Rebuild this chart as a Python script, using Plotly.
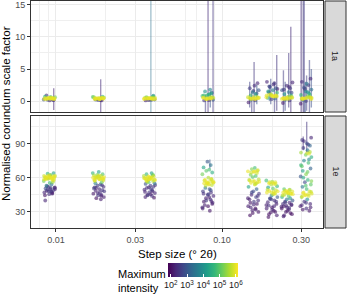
import plotly.graph_objects as go
from plotly.colors import sample_colorscale

# ---------------- data ----------------
STEP = [0.00914, 0.01803, 0.0366, 0.0824, 0.155, 0.200, 0.2466, 0.3206]

X_TICKS = [0.01, 0.03, 0.1, 0.3]
X_TICKTEXT = ["0.01", "0.03", "0.10", "0.30"]
X_MINOR = [0.008, 0.009, 0.02, 0.04, 0.06, 0.07, 0.09, 0.2]

YA_TICKS = [0, 5, 10, 15]
YA_MINOR = [2.5, 7.5, 12.5]
YE_TICKS = [30, 60, 90]
YE_MINOR = [45, 75, 105]

CB_TICKS = [2, 3, 4, 5, 6]
CB_TEXT = ["10<sup>2</sup>", "10<sup>3</sup>", "10<sup>4</sup>", "10<sup>5</sup>", "10<sup>6</sup>"]

# panel 1a : normalised scale factor / log10 max intensity per step-size group
A_Y = [
    [0.35, 0.45, 0.5, 0.4, 0.3, 0.55, 0.45, 0.4, 0.6, 0.35, 0.5, 0.7, 0.65, 0.2, 0.15, 0.25, 0.1, 0.2, 0.9,
     0.4, 0.45, 0.35, 0.5, 0.4, 0.3],
    [0.4, 0.3, 0.5, 0.45, 0.35, 0.55, 0.4, 0.5, 0.6, 0.3, 0.45, 0.7, 0.65, 0.2, 0.1, 0.25, 0.15, 0.2,
     0.4, 0.45, 0.35, 0.5, 0.4, 0.3],
    [0.35, 0.4, 0.5, 0.45, 0.3, 0.55, 0.4, 0.5, 0.65, 0.35, 0.45, 0.75, 0.6, 0.2, 0.15, 0.25, 0.1, 0.25, 0.85,
     0.4, 0.45, 0.35, 0.5, 0.4, 0.3],
    [0.35, 0.45, 0.5, 0.4, 0.3, 0.6, 0.8, 1.0, 1.2, 1.5, 1.8, 0.9, 0.2, 0.1, 0.15, 1.3, 0.7, 1.1, 0.55,
     0.4, 0.45, 0.5, 0.35, 0.6, 0.9],
    [0.3, 0.4, 0.5, 0.6, 0.45, 0.7, 0.9, 1.1, 1.4, 1.7, 2.0, 2.4, 2.8, 0.2, 0.1, -0.2, 1.2, 1.6, 0.55, 0.35,
     0.4, 0.5, 0.45, 0.35, 0.6],
    [0.6, 0.8, 0.9, 1.0, 0.7, 1.1, 1.3, 1.5, 1.7, 2.0, 2.3, 2.6, 3.0, 0.4, 0.3, 1.9, 2.2, 2.8, 0.5, 0.85, 1.4,
     0.8, 0.9, 0.75, 0.95, 0.7],
    [0.3, 0.4, 0.5, 0.6, 0.45, 0.7, 0.9, 1.1, 1.4, 1.7, 2.0, 2.4, 2.9, 0.2, 0.1, -0.3, 1.3, 1.8, 0.55, 0.35, 2.2,
     0.4, 0.5, 0.45, 0.35, 0.6],
    [0.3, 0.45, 0.5, 0.6, 0.4, 0.75, 0.95, 1.2, 1.5, 1.8, 2.1, 2.5, 3.0, 3.5, 0.2, 0.0, -0.4, 1.4, 1.9, 0.55, 0.35,
     2.7, 1.0, 0.4, 0.5, 0.45, 0.6, 0.35],
]
A_I = [
    [6.0, 5.9, 6.0, 5.8, 6.0, 5.7, 5.9, 6.0, 5.3, 5.8, 5.9, 4.6, 4.9, 2.8, 2.4, 3.0, 2.2, 2.6, 2.5,
     6.0, 5.9, 6.0, 5.8, 5.9, 6.0],
    [5.9, 6.0, 5.8, 6.0, 5.9, 5.7, 6.0, 5.9, 5.2, 5.8, 6.0, 4.7, 5.0, 2.7, 2.3, 3.1, 2.4, 2.5,
     6.0, 5.9, 6.0, 5.8, 5.9, 6.0],
    [6.0, 5.8, 5.9, 6.0, 5.9, 5.6, 6.0, 5.8, 5.0, 6.0, 5.9, 4.5, 5.2, 2.9, 2.4, 3.0, 2.3, 2.6, 3.8,
     6.0, 5.9, 6.0, 5.8, 5.9, 6.0],
    [6.0, 5.9, 6.0, 5.8, 6.0, 5.5, 4.8, 4.5, 4.3, 4.0, 3.8, 4.6, 3.0, 2.5, 2.3, 3.2, 5.2, 4.4, 5.9,
     6.0, 5.9, 5.8, 6.0, 5.6, 4.6],
    [6.0, 5.9, 6.0, 5.8, 6.0, 5.5, 4.8, 4.3, 3.6, 3.0, 2.6, 2.4, 2.3, 3.2, 2.6, 2.2, 2.8, 2.5, 5.9, 6.0,
     6.0, 5.9, 6.0, 5.8, 5.7],
    [6.0, 5.9, 6.0, 5.8, 6.0, 5.5, 4.8, 4.3, 3.6, 3.0, 2.6, 2.4, 2.3, 3.2, 2.6, 2.2, 2.8, 2.5, 4.5, 5.9, 2.7,
     6.0, 5.9, 6.0, 5.8, 5.9],
    [6.0, 5.9, 6.0, 5.8, 6.0, 5.4, 4.7, 4.2, 3.5, 2.9, 2.6, 2.4, 2.3, 3.1, 2.6, 2.2, 2.8, 2.5, 5.9, 6.0, 2.3,
     6.0, 5.9, 6.0, 5.8, 5.7],
    [6.0, 5.9, 6.0, 5.8, 6.0, 5.3, 4.6, 4.2, 3.8, 3.4, 2.9, 2.6, 2.4, 2.3, 3.3, 2.6, 2.2, 4.0, 2.5, 5.9, 6.0,
     3.6, 4.8, 6.0, 5.9, 6.0, 5.5, 5.8],
]

# panel 1e
E_Y = [
    [58.5, 59, 59.5, 60, 60, 60.5, 61, 61, 61.5, 62, 59, 60.5, 62.5, 63.5, 64, 57, 55.5, 56, 53, 54,
     52, 51, 50.5, 50, 49, 48.5, 48, 47, 46.5, 45.5, 51.5, 49.5, 47.5, 40,
     58, 59.5, 60.5, 61.5, 60, 59, 61, 58.5, 62, 57.5, 52.5, 50, 48, 46, 44.5, 51],
    [57.5, 58, 59, 59.5, 60, 60.5, 61, 61.5, 62, 58.5, 60, 63, 64, 65, 56, 55,
     54, 53, 52, 51.5, 50, 49, 48.5, 47, 46, 45, 44.5, 43, 42, 41,
     58, 59.5, 60.5, 61, 60, 59, 62.5, 58.5, 57, 61.5, 53.5, 51, 48, 46.5, 44, 50.5],
    [57, 57.5, 58, 58.5, 59, 59.5, 60, 60.5, 61, 61.5, 59, 62, 63, 64, 56, 55,
     54.5, 53, 52, 51, 50, 49.5, 48, 47, 46.5, 45, 44, 43, 42.5,
     57.5, 58.5, 59.5, 60, 61, 58, 59, 60.5, 62.5, 56.5, 53.5, 51.5, 49, 47.5, 45.5, 44.5],
    [74, 71, 69, 67, 66, 64.5, 63, 60, 59, 58, 57, 56, 55.5, 55, 54, 53.5,
     51, 50, 48, 47, 45, 44, 42, 41, 39, 38, 36, 35, 33, 31,
     55, 56.5, 57.5, 54.5, 58.5, 53, 56, 55.5, 49, 46, 43, 40, 37, 34, 45.5, 39.5],
    [68.5, 67.5, 66.5, 65.5, 65, 64, 62.5, 61.5, 60.5, 58.5, 57.5, 57, 56, 55.5, 54.5, 52,
     50, 48, 46, 45, 43, 41, 40, 38, 36.5, 35, 33, 31.5, 30, 27,
     65.5, 66, 64.5, 56.5, 57, 55, 58, 54, 47, 44, 42, 39, 37, 34, 32, 29],
    [57.5, 56.5, 56, 55, 54.5, 54, 52.5, 51.5, 50.5, 49, 48.5, 47.5, 47, 46, 44.5,
     43, 41.5, 40, 38.5, 37, 35.5, 34, 33, 31, 29.5, 27, 25.5,
     55.5, 54.5, 56, 48, 47, 46.5, 49.5, 45.5, 42, 39, 36, 32, 30, 28, 35, 41],
    [50, 49, 48.5, 48, 47, 46.5, 46, 45, 44, 43, 42, 41, 40, 39, 38, 37, 36, 35, 34, 33, 32, 30, 28, 26,
     47.5, 46, 48.5, 45.5, 47, 49.5, 44.5, 46.5, 38.5, 36.5, 34.5, 31, 29, 27, 33.5, 35.5],
    [95, 93, 90, 88, 86, 84, 82, 81, 80, 78, 75, 73, 70, 68, 66, 63, 61, 58, 56, 54, 52, 50,
     48, 47, 46, 45, 44, 43, 41, 39, 37, 35, 33, 31,
     46.5, 45.5, 44.5, 47.5, 43.5, 81.5, 82.5, 60, 65, 71, 76, 53, 57, 92, 89, 36, 34, 32, 38],
]
E_I = [
    [5.9, 6.0, 5.8, 6.0, 5.9, 6.0, 5.8, 6.0, 5.7, 5.9, 6.0, 5.9, 5.0, 4.6, 4.3, 5.2, 4.8, 5.4, 3.6, 3.4,
     2.6, 2.4, 2.8, 2.3, 2.5, 2.2, 2.6, 2.3, 2.1, 2.4, 2.2, 2.5, 2.0, 2.3,
     5.9, 6.0, 5.9, 5.8, 6.0, 5.7, 6.0, 5.9, 5.5, 5.8, 2.4, 2.2, 2.5, 2.3, 2.1, 2.6],
    [5.8, 6.0, 5.9, 6.0, 5.8, 6.0, 5.9, 5.7, 5.6, 6.0, 5.9, 4.9, 4.6, 4.3, 5.0, 3.6,
     2.8, 2.5, 2.4, 2.6, 2.3, 2.5, 2.2, 2.4, 2.1, 2.3, 2.5, 2.2, 2.0, 2.2,
     5.9, 6.0, 5.9, 5.8, 6.0, 5.7, 5.3, 5.9, 5.6, 5.8, 2.4, 2.2, 2.5, 2.3, 2.1, 2.6],
    [5.6, 5.9, 6.0, 5.8, 6.0, 5.9, 6.0, 5.8, 5.9, 5.6, 5.8, 5.0, 4.6, 4.3, 4.9, 3.5,
     2.9, 2.6, 2.5, 2.4, 2.6, 2.3, 2.2, 2.5, 2.3, 2.1, 2.4, 2.2, 2.0,
     5.9, 6.0, 5.9, 5.8, 6.0, 5.7, 6.0, 5.9, 5.2, 5.6, 2.4, 2.2, 2.5, 2.3, 2.1, 2.6],
    [3.0, 3.5, 4.3, 4.8, 5.0, 4.5, 5.2, 5.6, 5.9, 6.0, 5.9, 6.0, 5.8, 6.0, 5.9, 5.7,
     3.5, 3.0, 2.6, 2.4, 2.5, 2.3, 2.2, 2.4, 2.1, 2.3, 2.2, 2.0, 2.2, 2.1,
     6.0, 5.9, 5.8, 6.0, 5.6, 5.7, 6.0, 5.9, 2.8, 2.4, 2.2, 2.5, 2.1, 2.3, 2.6, 2.2],
    [4.8, 5.3, 5.8, 6.0, 5.9, 5.8, 5.2, 4.9, 5.0, 5.6, 5.9, 6.0, 5.9, 6.0, 5.8, 4.3,
     3.2, 2.8, 2.5, 2.3, 2.6, 2.2, 2.4, 2.1, 2.3, 2.2, 2.0, 2.2, 2.1, 2.0,
     6.0, 5.9, 5.8, 6.0, 5.9, 5.7, 5.6, 5.8, 2.7, 2.4, 2.2, 2.5, 2.1, 2.3, 2.2, 2.0],
    [4.8, 5.5, 5.9, 6.0, 5.9, 5.6, 4.6, 4.2, 5.0, 5.7, 6.0, 5.9, 6.0, 5.7, 3.8,
     3.0, 2.6, 2.4, 2.3, 2.2, 2.4, 2.1, 2.2, 2.0, 2.1, 2.2, 2.0,
     6.0, 5.9, 5.8, 6.0, 5.9, 6.0, 5.6, 5.8, 2.8, 2.4, 2.2, 2.3, 2.1, 2.0, 2.3, 2.6],
    [5.0, 5.8, 6.0, 5.9, 6.0, 5.8, 6.0, 5.7, 5.0, 4.5, 4.0, 3.5, 3.0, 2.6, 2.3, 2.4, 2.2, 2.1, 2.3, 2.0, 2.2, 2.1, 2.0, 2.2,
     6.0, 5.9, 5.8, 6.0, 5.9, 5.4, 5.7, 6.0, 2.5, 2.3, 2.2, 2.1, 2.0, 2.2, 2.4, 2.3],
    [2.3, 2.5, 2.8, 3.2, 2.6, 3.5, 5.5, 5.9, 5.2, 4.5, 3.8, 4.8, 5.0, 3.2, 4.2, 5.3, 3.0, 4.6, 2.8, 5.0, 3.6, 4.8,
     5.8, 6.0, 5.9, 6.0, 5.8, 5.4, 4.0, 2.5, 2.3, 2.2, 2.4, 2.1,
     6.0, 5.9, 6.0, 5.8, 5.9, 5.8, 5.6, 4.4, 5.1, 4.6, 3.9, 4.9, 5.3, 2.4, 2.6, 2.3, 2.2, 2.1, 2.5],
]

# error bars (step size, lower, upper, log10 max intensity)
A_EB_X = [0.0097, 0.0186, 0.0373, 0.0824, 0.0883, 0.0795, 0.085, 0.156, 0.1468, 0.162, 0.151,
          0.2135, 0.1965, 0.207, 0.193, 0.2595, 0.2343, 0.252, 0.240, 0.2995, 0.3083, 0.3125,
          0.336, 0.345, 0.323, 0.317]
A_EB_LO = [-1.4, -1.7, -1.7, -1.7, -1.7, -1.7, -1.0, -1.7, -1.0, -0.5, -1.7, -1.5, -0.5, -1.7, 0.0,
           -1.7, -1.7, -1.0, -1.5, -1.7, -1.7, -1.7, -1.7, -1.0, -1.5, -1.7]
A_EB_HI = [2.0, 3.4, 20, 20, 20, 1.0, 1.5, 6.1, 3.0, 2.5, 1.5, 7.2, 3.5, 3.0, 2.5, 11.6, 4.8, 7.5,
           3.0, 20, 20, 20, 6.4, 5.0, 4.0, 3.0]
A_EB_I = [2.3, 2.4, 3.4, 2.4, 2.5, 2.6, 3.0, 2.5, 2.7, 3.0, 2.6, 2.5, 2.8, 2.6, 3.0, 2.4, 2.6, 2.5,
          2.8, 2.4, 2.5, 2.6, 2.7, 2.9, 2.6, 3.0]

E_EB_X = [0.3235, 0.0845, 0.3083]
E_EB_LO = [82, 68, 84]
E_EB_HI = [109, 76, 96]
E_EB_I = [2.5, 3.0, 2.4]

# fixed horizontal jitter pattern (fraction of half-width)
JIT = [-0.9, 0.3, -0.2, 0.8, -0.6, 0.1, 0.6, -0.4, 0.95, -0.1, 0.45, -0.75, 0.2, -0.3, 0.7, -0.95,
       0.05, 0.55, -0.5, 0.35, -0.15, 0.85, -0.65, 0.15, 0.65, -0.45, 0.25, -0.85, 0.5, -0.05,
       0.9, -0.35, 0.4, -0.7, 0.75, -0.55, 0.0]

# ---------------- geometry ----------------
W, H = 347, 297
ML, MR, MT, MB = 31, 24, 1, 69
PW = W - ML - MR
PH = H - MT - MB
CMIN, CMAX = 1.83, 6.13


def py(p):
    return (H - MB - p) / PH


def px(p):
    return (p - ML) / PW


TOP_DOM = [py(112), py(1)]
BOT_DOM = [0.0, py(116)]


def col(i, a):
    c = sample_colorscale("Viridis", [(i - CMIN) / (CMAX - CMIN)])[0]
    r, g, b = [float(v) for v in c[c.index("(") + 1:c.index(")")].split(",")]
    return "rgba(%d,%d,%d,%.2f)" % (r, g, b, a)


fig = go.Figure()

# error bars
for xs, lo, hi, it, ya in [(A_EB_X, A_EB_LO, A_EB_HI, A_EB_I, "y"), (E_EB_X, E_EB_LO, E_EB_HI, E_EB_I, "y2")]:
    for x, l, h, i in zip(xs, lo, hi, it):
        fig.add_trace(go.Scatter(x=[x, x], y=[l, h], mode="lines", xaxis="x" if ya == "y" else "x2",
                                 yaxis=ya, line=dict(color=col(i, 0.42 if i > 3.2 else 0.52), width=1.4),
                                 showlegend=False, hoverinfo="skip"))


def points(Ys, Is):
    pts = []
    for g, (ys, its) in enumerate(zip(Ys, Is)):
        for k, (y, i) in enumerate(zip(ys, its)):
            j = JIT[(k + 3 * g) % len(JIT)]
            pts.append((STEP[g] * 10 ** (j * 0.036), y, i))
    pts.sort(key=lambda p: p[2])
    return [p[0] for p in pts], [p[1] for p in pts], [p[2] for p in pts]


for Ys, Is, xa, ya in [(A_Y, A_I, "x", "y"), (E_Y, E_I, "x2", "y2")]:
    xs, ys, cs = points(Ys, Is)
    fig.add_trace(go.Scatter(x=xs, y=ys, mode="markers", xaxis=xa, yaxis=ya,
                             marker=dict(size=3.8, color=cs, coloraxis="coloraxis", opacity=0.6,
                                         line=dict(width=0)),
                             showlegend=False, hoverinfo="skip"))

FONT = "Liberation Sans, Arial, sans-serif"
common_x = dict(type="log", range=[-2.15, -0.392], tickmode="array", tickvals=X_TICKS, ticktext=X_TICKTEXT,
                showgrid=True, gridcolor="#ebebeb", gridwidth=1.1,
                minor=dict(tickmode="array", tickvals=X_MINOR, showgrid=True, gridcolor="#efefef",
                           gridwidth=0.7, ticks=""),
                showline=True, linecolor="#333333", linewidth=1, mirror=True, zeroline=False)
common_y = dict(tickmode="array", showgrid=True, gridcolor="#ebebeb", gridwidth=1.1,
                showline=True, linecolor="#333333", linewidth=1, mirror=True, zeroline=False,
                ticks="outside", ticklen=3, tickcolor="#333333", tickwidth=1,
                tickfont=dict(size=9, color="#4d4d4d", family=FONT))

fig.update_layout(
    width=W, height=H,
    margin=dict(l=ML, r=MR, t=MT, b=MB, autoexpand=False),
    paper_bgcolor="white", plot_bgcolor="white",
    font=dict(family=FONT, color="#1a1a1a"),
    xaxis=dict(common_x, anchor="y", showticklabels=False, ticks="", matches="x2"),
    xaxis2=dict(common_x, anchor="y2", ticks="outside", ticklen=3, tickcolor="#333333", tickwidth=1,
                tickfont=dict(size=9, color="#4d4d4d", family=FONT)),
    yaxis=dict(common_y, domain=TOP_DOM, anchor="x", range=[-1.7, 15.6], tickvals=YA_TICKS,
               minor=dict(tickmode="array", tickvals=YA_MINOR, showgrid=True, gridcolor="#efefef",
                          gridwidth=0.7, ticks="")),
    yaxis2=dict(common_y, domain=BOT_DOM, anchor="x2", range=[15.9, 114], tickvals=YE_TICKS,
                minor=dict(tickmode="array", tickvals=YE_MINOR, showgrid=True, gridcolor="#efefef",
                           gridwidth=0.7, ticks="")),
    coloraxis=dict(colorscale="Viridis", cmin=CMIN, cmax=CMAX,
                   colorbar=dict(orientation="h", x=px(203), xanchor="center", y=py(263), yanchor="top",
                                 lenmode="pixels", len=70, thickness=14, outlinewidth=0, ypad=0, xpad=0,
                                 tickmode="array", tickvals=CB_TICKS, ticktext=CB_TEXT,
                                 ticks="inside", ticklen=3, tickcolor="white", tickwidth=1,
                                 tickfont=dict(size=9, color="#1a1a1a", family=FONT),
                                 title=dict(text=""))),
)

# facet strips
for dom, lab in [(TOP_DOM, "1a"), (BOT_DOM, "1e")]:
    fig.add_shape(type="rect", xref="paper", yref="paper", x0=px(325), x1=px(346), y0=dom[0], y1=dom[1],
                  fillcolor="#d9d9d9", line=dict(color="#333333", width=1), layer="above")
    fig.add_annotation(xref="paper", yref="paper", x=px(335.5), y=(dom[0] + dom[1]) / 2, text=lab,
                       textangle=90, showarrow=False, font=dict(size=9, color="#1a1a1a", family=FONT),
                       xanchor="center", yanchor="middle")

fig.add_annotation(xref="paper", yref="paper", x=px(6), y=py(114), text="Normalised corundum scale factor",
                   textangle=-90, showarrow=False, font=dict(size=11.5, color="black", family=FONT),
                   xanchor="center", yanchor="middle")
fig.add_annotation(xref="paper", yref="paper", x=px(177), y=py(253.5), text="Step size (° 2θ)",
                   showarrow=False, font=dict(size=11.5, color="black", family=FONT),
                   xanchor="center", yanchor="middle")
fig.add_annotation(xref="paper", yref="paper", x=px(116), y=py(281), text="Maximum<br>intensity",
                   showarrow=False, align="left", font=dict(size=11, color="black", family=FONT),
                   xanchor="left", yanchor="middle")

fig.write_html("out.html", config={"displayModeBar": False},
               post_script="document.body.style.margin='0px';")
